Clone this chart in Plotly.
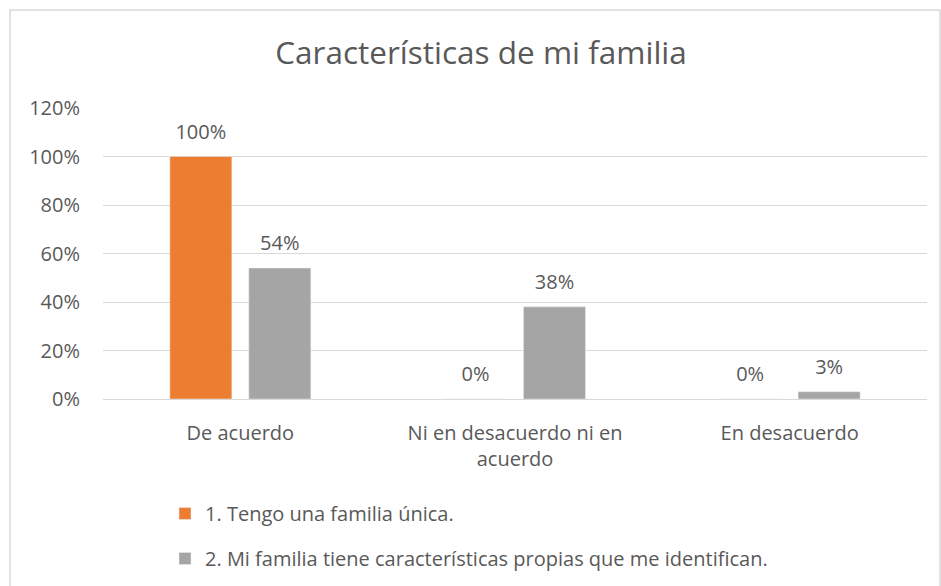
import plotly.graph_objects as go

categories = ["De acuerdo", "Ni en desacuerdo ni en<br>acuerdo", "En desacuerdo"]
series1_name = "1. Tengo una familia única."
series1_values = [100, 0, 0]
series2_name = "2. Mi familia tiene características propias que me identifican."
series2_values = [54, 38, 3]
y_ticks = [0, 20, 40, 60, 80, 100, 120]
y_tick_labels = ["0%", "20%", "40%", "60%", "80%", "100%", "120%"]

FONT = "Open Sans"
TXT = "#595959"
FS = 20

fig = go.Figure()
for name, vals, color, grp in [(series1_name, series1_values, "#ED7D31", "a"),
                               (series2_name, series2_values, "#A5A5A5", "b")]:
    fig.add_trace(go.Bar(
        x=categories, y=vals, name=name, marker_color=color,
        legendgroup=grp, offsetgroup=grp, hoverinfo="skip",
    ))
for vals, grp in [(series1_values, "a"), (series2_values, "b")]:
    fig.add_trace(go.Scatter(
        x=categories, y=vals, mode="markers+text", showlegend=False,
        offsetgroup=grp, text=[f"{v}%" for v in vals], textposition="top center",
        marker=dict(size=19, opacity=0), cliponaxis=False, hoverinfo="skip",
        textfont=dict(size=FS, color=TXT, family=FONT),
    ))

L, R, T, B = 103, 14, 108, 187
W, H = 941, 586
pw = W - L - R
ph = H - T - B

fig.update_layout(
    width=W, height=H,
    margin=dict(l=L, r=R, t=T, b=B, autoexpand=False),
    paper_bgcolor="white", plot_bgcolor="white",
    font=dict(family=FONT, color=TXT, size=FS),
    title=dict(text="Características de mi familia", x=481 / W, xanchor="center",
               y=1 - 53 / H, yanchor="middle",
               font=dict(size=31.5, color=TXT, family=FONT)),
    barmode="group", bargap=0.425, bargroupgap=0.215,
    scattermode="group", scattergap=0.425,
    showlegend=True,
    legend=dict(orientation="v", x=(165 - L) / pw, xanchor="left",
                y=(399 - 494) / ph, yanchor="top",
                tracegroupgap=16, font=dict(size=FS, color=TXT, family=FONT),
                itemwidth=30, bgcolor="rgba(0,0,0,0)"),
    xaxis=dict(showgrid=False, showline=True, linecolor="#D9D9D9", linewidth=1,
               ticks="outside", ticklen=16, tickcolor="rgba(0,0,0,0)",
               tickfont=dict(size=FS, color=TXT, family=FONT)),
    yaxis=dict(range=[0, 120], tickvals=y_ticks, ticktext=y_tick_labels,
               showgrid=True, gridcolor="#D9D9D9", gridwidth=1, zeroline=False,
               showline=False, ticks="outside", ticklen=18,
               tickcolor="rgba(0,0,0,0)",
               tickfont=dict(size=FS, color=TXT, family=FONT)),
    shapes=[dict(type="rect", xref="paper", yref="paper",
                 x0=(10 - L) / pw, x1=(940 - L) / pw,
                 y0=(399 - 700) / ph, y1=(399 - 10) / ph,
                 line=dict(color="#D9D9D9", width=1.5), fillcolor="rgba(0,0,0,0)",
                 layer="below")],
)

fig.write_html("out.html", config={"displayModeBar": False},
               post_script="document.body.style.margin='0';")
